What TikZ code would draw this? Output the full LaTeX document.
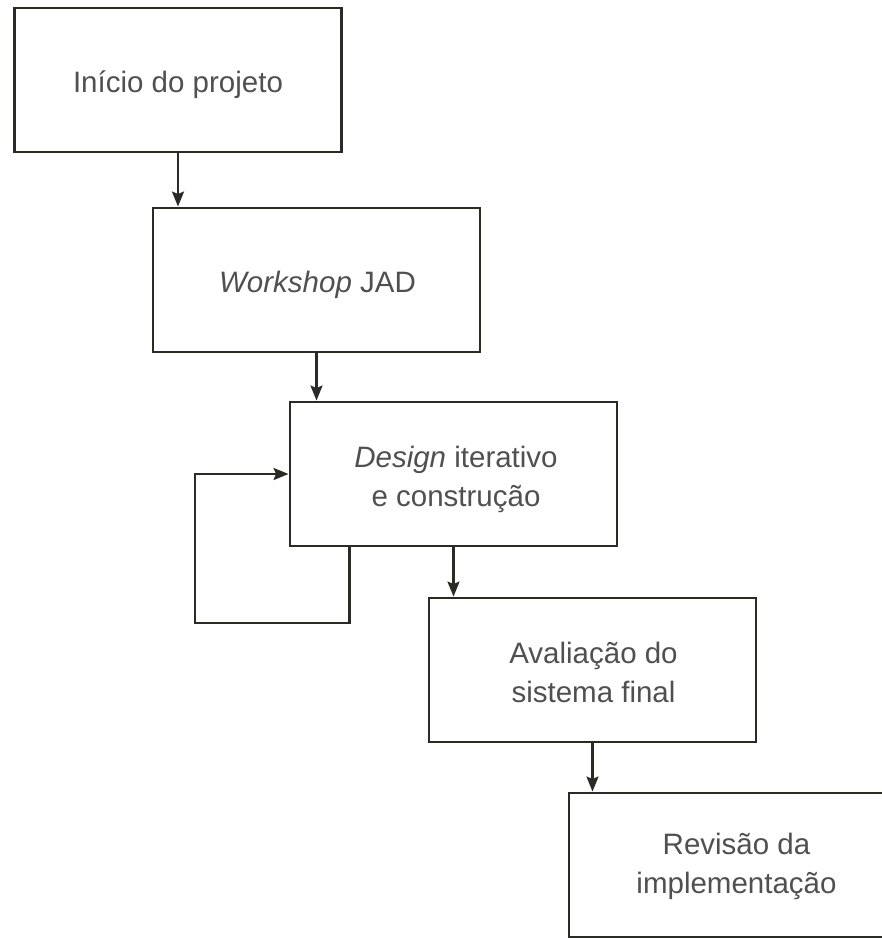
\documentclass[tikz,border=0pt]{standalone}
\usepackage{fontspec}
\setmainfont{Liberation Sans}
\usetikzlibrary{arrows.meta,calc}
\definecolor{linec}{HTML}{2B2B26}
\definecolor{textc}{HTML}{505050}
\begin{document}
\begin{tikzpicture}[x=1pt,y=-1pt,
  box/.style={draw=linec,line width=2.9pt,minimum width=327pt,minimum height=144pt,inner sep=0pt},
  lbl/.style={align=center,text=textc,inner sep=0pt,font=\fontsize{29.5}{39}\selectfont},
  arr/.style={draw=linec,line width=2.4pt,-{Stealth[length=15pt,width=12pt,inset=2.5pt]}}]
\useasboundingbox (0,0) rectangle (882,938);
\clip (0,0) rectangle (882,938);
\fill[white] (0,0) rectangle (882,938);
\node[box] (b1) at (178,80) {};
\node[box] (b2) at (316.5,280) {};
\node[box] (b3) at (453.5,474) {};
\node[box] (b4) at (592.5,670) {};
\node[box] (b5) at (732.5,865) {};
\node[lbl] (t1) at ($(b1.center)+(0,5)$) {Início do projeto};
\node[lbl] (t2) at ($(b2.center)+(1,5)$) {\textit{Workshop} JAD};
\node[lbl] (t3) at ($(b3.center)+(2.5,5)$) {\textit{Design} iterativo\\e construção};
\node[lbl] (t4) at ($(b4.center)+(1,2)$) {Avaliação do\\sistema final};
\node[lbl] (t5) at ($(b5.center)+(4,1)$) {Revisão da\\implementação};
\draw[arr] (b1.south) -- (b1.south |- b2.north);
\draw[arr] (b2.south) -- (b2.south |- b3.north);
\draw[arr] (b3.south) -- (b3.south |- b4.north);
\draw[arr] (b4.south) -- (b4.south |- b5.north);
\coordinate (l0) at ($(b3.south west)+(61,0)$);
\coordinate (l1) at (195,623);
\draw[arr] (l0) |- (l1) |- (b3.west);
\end{tikzpicture}
\end{document}
